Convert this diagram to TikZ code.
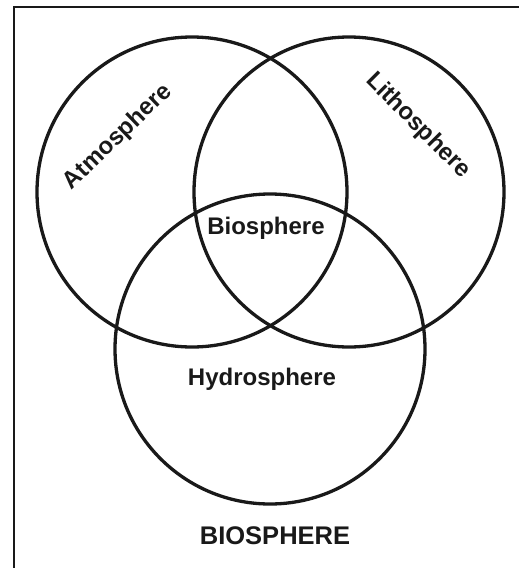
\documentclass[tikz,border=0pt]{standalone}
\usepackage{fontspec}
\setmainfont{Liberation Sans}
\usetikzlibrary{positioning}

\begin{document}
\begin{tikzpicture}[
    sphere/.style={
        draw, circle, line width=3.3pt, draw=black!90,
        minimum size=310pt, inner sep=0pt,
    },
    lbl/.style={font=\fontsize{24}{28}\selectfont\bfseries, text=black!90, inner sep=0pt},
    title/.style={font=\fontsize{25.5}{30}\selectfont\bfseries, text=black!90, inner sep=0pt},
    frame/.style={line width=2pt, draw=black!90},
]

\useasboundingbox (0,0) rectangle (519pt,-568pt);

% frame (top and left only)
\draw[frame] (14pt,-568pt) -- (14pt,-7pt) -- (519pt,-7pt);

% the three spheres
\node[sphere] (atmo) at (192pt,-192pt) {};
\node[sphere] (litho) at (349pt,-192pt) {};
\node[sphere] (hydro) at (270pt,-349pt) {};

% labels
\node[lbl, rotate=44] (atmoL) at (118pt,-137pt) {Atmosphere};
\node[lbl, rotate=-45] (lithoL) at (418pt,-126pt) {Lithosphere};
\node[lbl] (bioL) at (266pt,-228pt) {Biosphere};
\node[lbl] (hydroL) at (262pt,-379pt) {Hydrosphere};
\node[title] (caption) at (275pt,-536pt) {BIOSPHERE};

\end{tikzpicture}
\end{document}
